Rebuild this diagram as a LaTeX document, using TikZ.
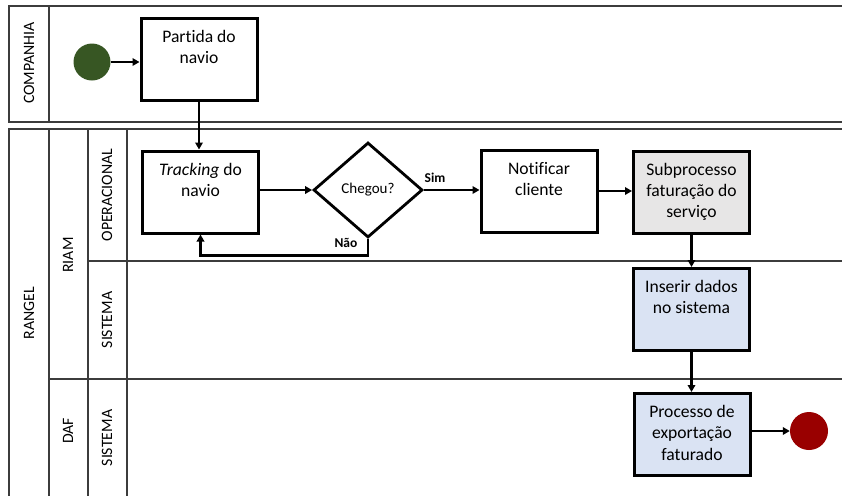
\documentclass[tikz,border=0pt]{standalone}
\usepackage{fontspec}
\setmainfont[Ligatures=NoCommon]{Carlito}
\usetikzlibrary{shapes.geometric,arrows.meta}

\definecolor{startgreen}{RGB}{55,86,35}
\definecolor{endred}{RGB}{153,0,0}
\definecolor{subgray}{RGB}{231,230,230}
\definecolor{sysblue}{RGB}{218,227,243}
\definecolor{laneline}{RGB}{60,60,60}

% task text: top-aligned, centred lines inside a fixed-size box
\newcommand{\tasktext}[1]{\parbox[c][80pt][t]{114pt}{\centering\vspace*{11pt}#1}}

\tikzset{
  lane/.style={draw=laneline, line width=1.4pt},
  lanelabel/.style={rotate=90, font=\fontsize{15.8}{18}\selectfont, inner sep=0pt},
  task/.style={draw=black, line width=3pt, inner sep=0pt, fill=white,
    minimum width=116pt, minimum height=82pt,
    font=\fontsize{17.6}{21.2}\selectfont},
  gate/.style={draw=black, line width=2.8pt, diamond, inner sep=0pt, fill=white,
    minimum width=109pt, minimum height=95pt,
    font=\fontsize{15}{18}\selectfont},
  flow/.style={draw=black, line width=2.6pt,
    -{Triangle[length=7pt,width=7.5pt]}},
  flowlabel/.style={font=\fontsize{13.5}{16}\selectfont\bfseries, inner sep=0pt},
}

\begin{document}
\begin{tikzpicture}[x=1pt, y=-1pt]
\useasboundingbox (0,0) rectangle (842,496);

% pool COMPANHIA
\draw[lane] (842,6) -- (9,6) -- (9,122) -- (842,122);
\draw[lane] (49,6) -- (49,122);
\node[lanelabel] (lblcomp) at (29,63) {COMPANHIA};

% pool RANGEL
\draw[lane] (842,129) -- (9,129) -- (9,496);
\draw[lane] (49,129) -- (49,496);
\draw[lane] (88,129) -- (88,496);
\draw[lane] (127,129) -- (127,496);
\draw[lane] (88,261) -- (842,261);
\draw[lane] (49,379) -- (842,379);
\node[lanelabel] (lblrangel) at (29,313) {RANGEL};
\node[lanelabel] (lblriam) at (68,255) {RIAM};
\node[lanelabel] (lbldaf) at (68,431) {DAF};
\node[lanelabel] (lblop) at (107,195) {OPERACIONAL};
\node[lanelabel] (lblsis1) at (107,320) {SISTEMA};
\node[lanelabel] (lblsis2) at (107,438) {SISTEMA};

% events
\node[circle, fill=startgreen, minimum size=37pt, inner sep=0pt] (start) at (92,62) {};
\node[circle, fill=endred, minimum size=38pt, inner sep=0pt] (end) at (809,431) {};

% tasks
\node[task] (partida) at (199,59.5) {\tasktext{Partida do\\navio}};
\node[task] (track) at (200.5,192) {\tasktext{\textit{Tracking} do\\navio}};
\node[gate] (chegou) at (368,190) {Chegou?};
\node[task] (notif) at (539,191) {\tasktext{Notificar\\cliente}};
\node[task, fill=subgray] (subproc) at (691.5,192) {\tasktext{Subprocesso\\faturação do\\serviço}};
\node[task, fill=sysblue] (inserir) at (691.5,309.5) {\tasktext{Inserir dados\\no sistema}};
\node[task, fill=sysblue] (export) at (692,434.5) {\tasktext{Processo de\\exportação\\faturado}};

% sequence flows
\draw[flow] (start) -- (partida.west |- start);
\draw[flow] (partida.south) -- (partida.south |- track.north);
\draw[flow] (track.east |- chegou.west) -- (chegou.west);
\draw[flow] (chegou.east) -- (notif.west |- chegou.east);
\draw[flow] (chegou.south) -- ++(0,16.5) -| (track.south);
\draw[flow] (notif.east) -- (subproc.west |- notif.east);
\draw[flow] (subproc.south) -- (inserir.north);
\draw[flow] (inserir.south) -- (inserir.south |- export.north);
\draw[flow] (export.east |- end) -- (end.west);

% gateway labels
\node[flowlabel] (lblsim) at (435,178) {Sim};
\node[flowlabel] (lblnao) at (346,243) {Não};
\end{tikzpicture}
\end{document}
